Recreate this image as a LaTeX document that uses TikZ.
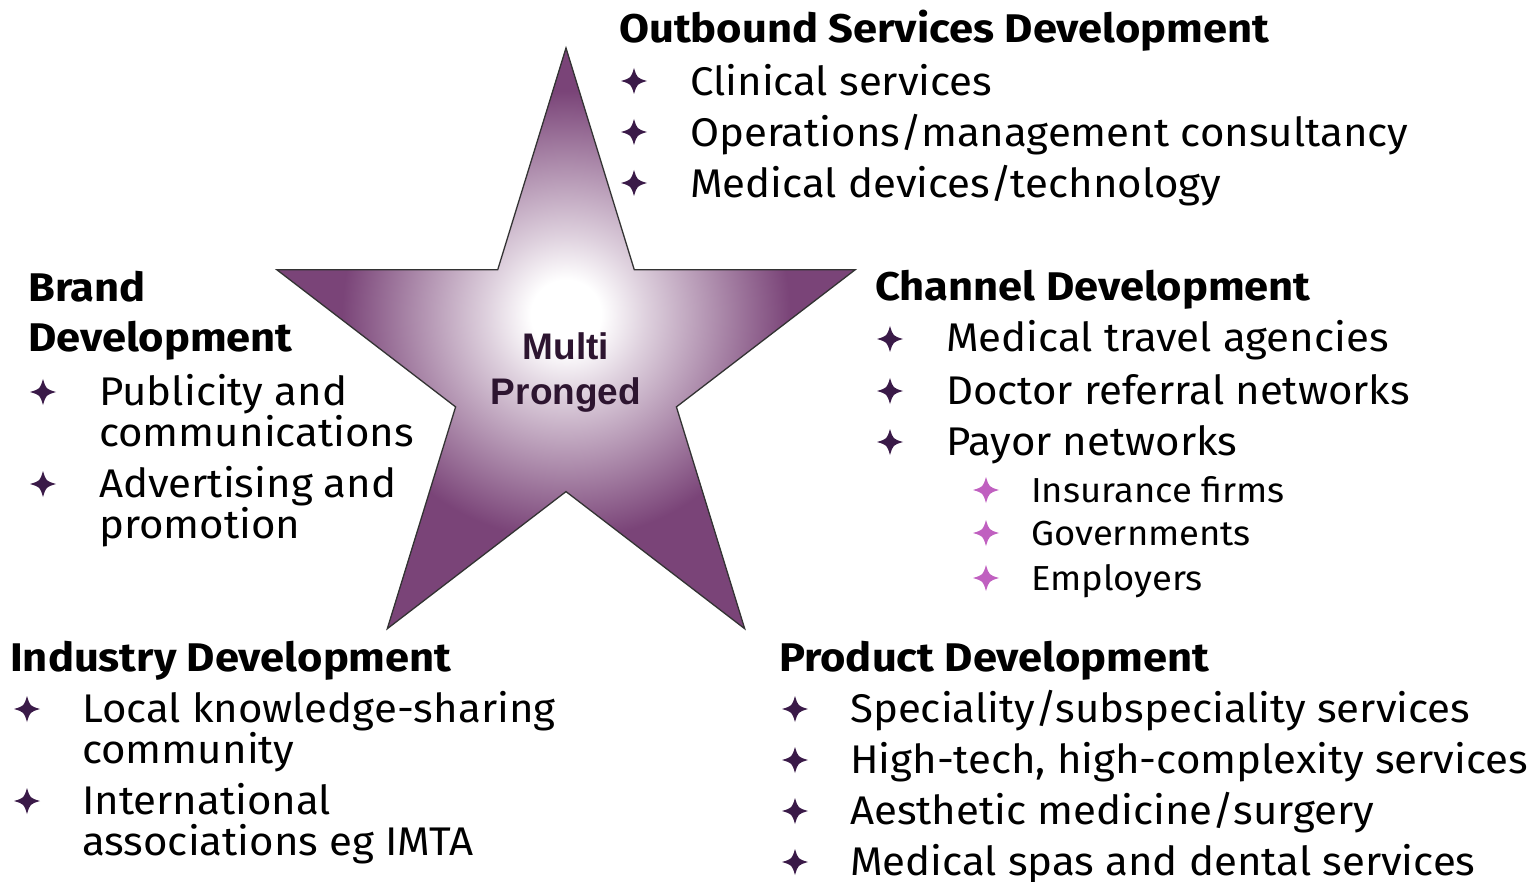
\documentclass[tikz,border=0pt]{standalone}
\usepackage{fontspec}
\setmainfont{Fira Sans}[FakeStretch=1.05, BoldFeatures={FakeStretch=1.087}]
\newfontfamily\arialfont{Liberation Sans}
\definecolor{starpurple}{HTML}{7A4478}
\definecolor{bulletdark}{HTML}{3A1A48}
\definecolor{bulletpink}{HTML}{C060C0}
\definecolor{startext}{HTML}{2D1530}
\pgfdeclareradialshading{starglow}{\pgfpointorigin}{%
  color(0bp)=(white); color(2.2bp)=(white); color(5bp)=(starpurple!25!white);
  color(9bp)=(starpurple!58!white); color(14bp)=(starpurple); color(50bp)=(starpurple)}
\newcommand\mainsz{\fontsize{40}{48}\selectfont}
\newcommand\subsz{\fontsize{34.7}{40}\selectfont}
\tikzset{
  txt/.style={anchor=base west, inner sep=0pt, font=\mainsz},
  ttl/.style={anchor=base west, inner sep=0pt, font=\mainsz\bfseries},
  subtxt/.style={anchor=base west, inner sep=0pt, font=\subsz},
  bulletstar/.pic={\fill (0,-13) .. controls (3,-3) .. (13,0) .. controls (3,3) .. (0,13) .. controls (-3,3) .. (-13,0) .. controls (-3,-3) .. cycle;},
}
\begin{document}
\begin{tikzpicture}[x=1pt,y=-1pt]
\useasboundingbox (0,0) rectangle (1539,882);
% star
\coordinate (s0) at (566,48);
\coordinate (s1) at (497.7,269.8);
\coordinate (s2) at (276.9,269.8);
\coordinate (s3) at (455.6,406.9);
\coordinate (s4) at (387.3,628.7);
\coordinate (s5) at (566,491.6);
\coordinate (s6) at (744.7,628.7);
\coordinate (s7) at (676.4,406.9);
\coordinate (s8) at (855.1,269.8);
\coordinate (s9) at (634.3,269.8);
\begin{scope}
  \clip (s0)--(s1)--(s2)--(s3)--(s4)--(s5)--(s6)--(s7)--(s8)--(s9)--cycle;
  \shade[shading=starglow] (566,315) circle (400);
\end{scope}
\draw[black!80, line width=1.3pt, line join=miter] (s0)--(s1)--(s2)--(s3)--(s4)--(s5)--(s6)--(s7)--(s8)--(s9)--cycle;
\node[font=\arialfont\bfseries\fontsize{37}{42}\selectfont, text=startext, align=center, inner sep=0pt] (multi) at (566,373) {Multi\\[3pt]Pronged};

% Outbound
\node[ttl] (ot) at (619,43) {Outbound Services Development};
\pic[bulletdark] (ob1) at (634,81) {bulletstar};
\pic[bulletdark] (ob2) at (634,132) {bulletstar};
\pic[bulletdark] (ob3) at (634,183) {bulletstar};
\node[txt] (o1) at (690,96) {Clinical services};
\node[txt] (o2) at (690,147) {Operations/management consultancy};
\node[txt] (o3) at (690,198) {Medical devices/technology};

% Brand
\node[ttl] (bt1) at (28,302) {Brand};
\node[ttl] (bt2) at (28,352) {Development};
\pic[bulletdark] (bb1) at (43,392) {bulletstar};
\pic[bulletdark] (bb2) at (43,484) {bulletstar};
\node[txt] (b1a) at (99,405) {Publicity and};
\node[txt] (b1b) at (99,446) {communications};
\node[txt] (b2a) at (99,497) {Advertising and};
\node[txt] (b2b) at (99,538) {promotion};

% Channel
\node[ttl] (ct) at (875,301) {Channel Development};
\pic[bulletdark] (cb1) at (890,339) {bulletstar};
\pic[bulletdark] (cb2) at (890,391) {bulletstar};
\pic[bulletdark] (cb3) at (890,442) {bulletstar};
\node[txt] (c1) at (946,352) {Medical travel agencies};
\node[txt] (c2) at (946,404) {Doctor referral networks};
\node[txt] (c3) at (946,455) {Payor networks};
\pic[bulletpink] (sb1) at (986,490) {bulletstar};
\pic[bulletpink] (sb2) at (986,533) {bulletstar};
\pic[bulletpink] (sb3) at (986,578) {bulletstar};
\node[subtxt] (s1t) at (1031,502) {Insurance firms};
\node[subtxt] (s2t) at (1031,545) {Governments};
\node[subtxt] (s3t) at (1031,590) {Employers};

% Industry
\node[ttl] (it) at (10,671) {Industry Development};
\pic[bulletdark] (ib1) at (27,709) {bulletstar};
\pic[bulletdark] (ib2) at (27,801) {bulletstar};
\node[txt] (i1a) at (82,722) {Local knowledge-sharing};
\node[txt] (i1b) at (82,763) {community};
\node[txt] (i2a) at (82,814) {International};
\node[txt] (i2b) at (82,855) {associations eg IMTA};

% Product
\node[ttl] (pt) at (779,671) {Product Development};
\pic[bulletdark] (pb1) at (795,709) {bulletstar};
\pic[bulletdark] (pb2) at (795,760) {bulletstar};
\pic[bulletdark] (pb3) at (795,811) {bulletstar};
\pic[bulletdark] (pb4) at (795,862) {bulletstar};
\node[txt] (p1) at (850,722) {Speciality/subspeciality services};
\node[txt] (p2) at (850,773) {High-tech, high-complexity services};
\node[txt] (p3) at (850,824) {Aesthetic medicine/surgery};
\node[txt] (p4) at (850,875) {Medical spas and dental services};
\end{tikzpicture}
\end{document}
